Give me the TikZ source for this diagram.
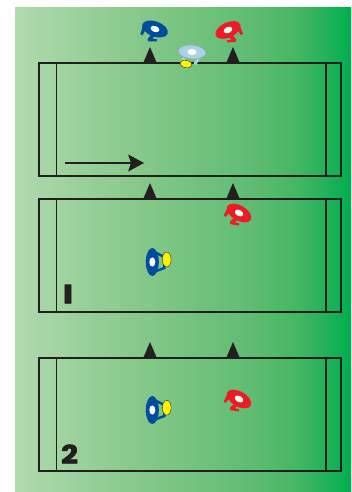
\documentclass[tikz,border=0pt]{standalone}
\usepackage{fontspec}
\usetikzlibrary{arrows.meta,shapes.geometric}
\newfontfamily\numfont[BoldFeatures={FakeBold=2}]{Poppins}
\definecolor{ink}{HTML}{231F20}
\definecolor{teamblue}{HTML}{004DA0}
\definecolor{teamred}{HTML}{ED1C24}
\definecolor{teampale}{HTML}{A9D3E3}
\definecolor{paleedge}{HTML}{8FA9A8}
\definecolor{ballyel}{HTML}{FFF200}
\pgfdeclarehorizontalshading{pitch}{100bp}{
    rgb(0bp)=(0.69,0.855,0.682);
    rgb(25bp)=(0.69,0.855,0.682);
    rgb(40.6bp)=(0.55,0.796,0.557);
    rgb(60bp)=(0.376,0.737,0.447);
    rgb(67bp)=(0.275,0.714,0.392);
    rgb(75bp)=(0,0.682,0.31);
    rgb(100bp)=(0,0.682,0.31)}
\begin{document}
\begin{tikzpicture}[
    x=0.02cm,y=-0.02cm,
    outer/.style={draw=ink,line width=1.1pt},
    inner/.style={draw=ink,line width=0.9pt},
    runarrow/.style={-{Stealth[length=9pt,width=9.6pt,inset=1.6pt]},draw=ink,line width=0.6pt},
    cone/.pic={\fill[ink] (-7,0.5) -- (0,-16) -- (7,0.5) -- cycle;},
    stand/.pic={
        \fill[pic actions] (-12.5,1) -- (-12,10) -- (-9.5,10) -- (-8.5,3) -- cycle;
        \fill[pic actions] (-1,4) -- (-3.5,12) -- (-2,14) -- (6,11) -- (5.5,9) -- (1,10) -- (2.5,5) -- cycle;
        \fill[pic actions] (0,0) ellipse [x radius=13.5,y radius=7.5];
        \fill[white] (0,0) ellipse [x radius=4.6,y radius=3];
    },
    dribble/.pic={
        \draw[pic actions,line width=1.4pt,fill=none] (-9,4) -- (-6,12) -- (5,12) -- (9,4);
        \fill[pic actions] (0,0) ellipse [x radius=14,y radius=6.5];
        \fill[white] (0,0) ellipse [x radius=4.6,y radius=3];
    },
    palerun/.pic={
        \draw[teampale,line width=1.7pt] (-7,4) -- (-9,11);
        \draw[teampale,line width=1.7pt] (8,3) -- (4,12);
        \filldraw[fill=teampale,draw=paleedge,line width=0.4pt] (0,0) ellipse [x radius=14,y radius=7];
        \fill[white] (0,0) ellipse [x radius=4.6,y radius=3];
    },
    ball/.style={ellipse,draw=ink,line width=0.2pt,fill=ballyel,inner sep=0pt},
]
\useasboundingbox (0,0) rectangle (351,492);
\fill[white] (0,0) rectangle (351,492);
\shade[shading=pitch] (15,8) rectangle (351,492);

% Field 1
\draw[outer] (39,63) rectangle (341,176);
\draw[inner] (56.5,63) -- (56.5,176);
\draw[inner] (326,63) -- (326,176);
\pic at (150,63) {cone};
\pic at (233,63) {cone};
\coordinate (runstart) at (65,163);
\coordinate (runend) at (144,163);
\draw[runarrow] (runstart) -- (runend);
\pic[rotate=-20,teamblue] at (155,29) {stand};
\pic[xscale=-1,rotate=-25,teamred] at (228,30) {stand};
\pic[rotate=-5] at (192,52) {palerun};
\node[ball,minimum width=7pt,minimum height=4.2pt,rotate=-10] (ballone) at (186,64) {};

% Field 2
\draw[outer] (39,199) rectangle (341,312);
\draw[inner] (56.5,199) -- (56.5,312);
\draw[inner] (326,199) -- (326,312);
\pic at (150,199) {cone};
\pic at (233,199) {cone};
\pic[rotate=-30,teamred] at (239,213) {stand};
\pic[rotate=90,teamblue] at (152.3,262) {dribble};
\node[ball,minimum width=5pt,minimum height=8.5pt] (balltwo) at (166.7,259.5) {};
\node[font=\numfont\bfseries,ink,xscale=2,yscale=1.5,inner sep=0pt] (numone) at (68,294) {I};

% Field 3
\draw[outer] (39,358) rectangle (341,471);
\draw[inner] (56.5,358) -- (56.5,471);
\draw[inner] (326,358) -- (326,471);
\pic at (150,358) {cone};
\pic at (233,358) {cone};
\pic[rotate=-30,teamred] at (239,399) {stand};
\pic[rotate=90,teamblue] at (152.3,410) {dribble};
\node[ball,minimum width=5pt,minimum height=8.5pt] (ballthree) at (166.7,407.7) {};
\node[font=\numfont\bfseries,ink,xscale=1.7,yscale=1.45,inner sep=0pt] (numtwo) at (69.5,454) {2};
\end{tikzpicture}
\end{document}
